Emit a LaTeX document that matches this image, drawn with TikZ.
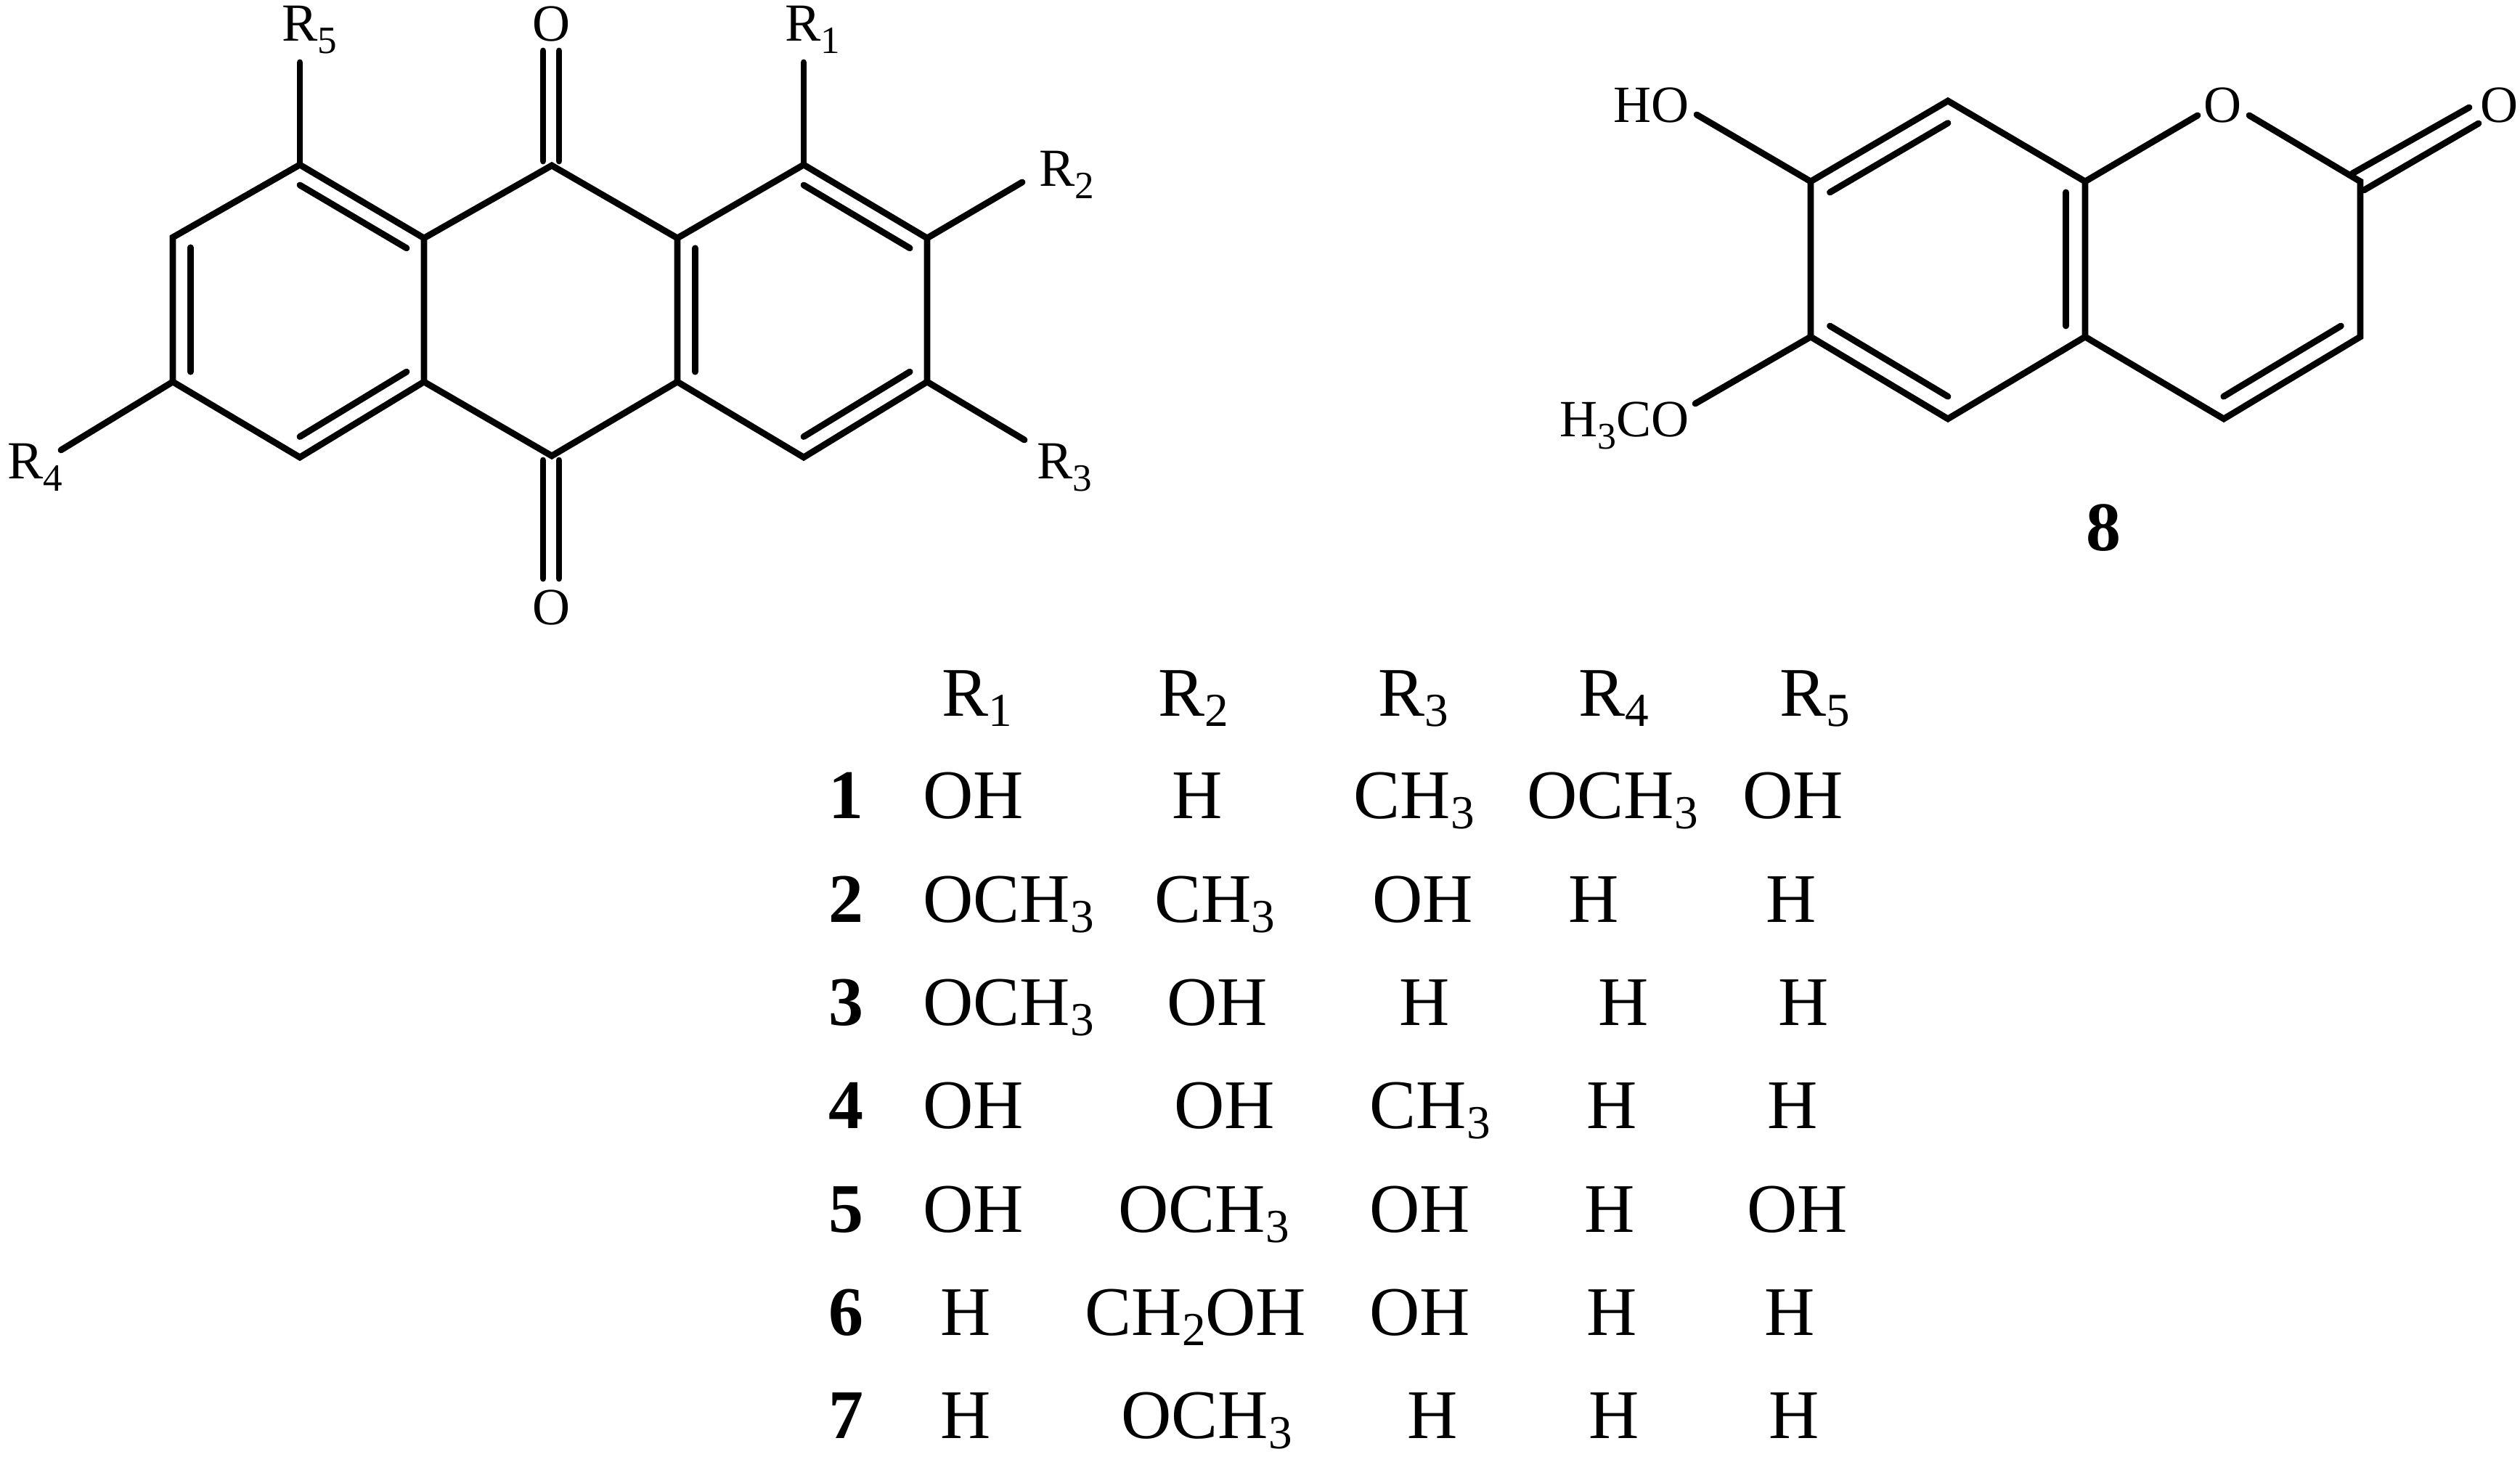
\documentclass[tikz,border=0pt]{standalone}
\usepackage{fontspec}
\setmainfont{Liberation Serif}
\usetikzlibrary{calc}
\def\innerbond(#1)(#2)(#3){\draw[bond] ($(#1)!0.14!(#3)$) -- ($(#2)!0.14!(#3)$);}
\def\lsub#1{\raisebox{-0.23em}{\scalebox{0.72}{#1}}}
\def\tsub#1{\raisebox{-0.14em}{\scalebox{0.68}{#1}}}
\tikzset{
	bond/.style={line width=2.5pt, line cap=round, line join=miter},
	arlabel/.style={inner sep=0pt, anchor=base west, font=\fontsize{21}{24}\selectfont},
	cmlabel/.style={inner sep=0pt, anchor=base, font=\fontsize{20.5}{24}\selectfont},
	cell/.style={inner sep=0pt, anchor=base west, font=\fontsize{27.3}{32}\selectfont},
	rownum/.style={inner sep=0pt, anchor=base, font=\fontsize{27.3}{32}\selectfont\bfseries}
}

\begin{document}
\begin{tikzpicture}
		\useasboundingbox (0, 0) rectangle (34.71, 20.14);
		
		%%%%% ANTHRAQUINONE %%%%%
		
		\coordinate (ctop) at (7.60, 17.86);
		\coordinate (cbot) at (7.60, 13.86);
		\coordinate (la) at (5.84, 16.86);
		\coordinate (lb) at (5.84, 14.88);
		\coordinate (ra) at (9.33, 16.86);
		\coordinate (rb) at (9.33, 14.88);
		\coordinate (l1) at (4.13, 17.87);
		\coordinate (l2) at (2.38, 16.87);
		\coordinate (l3) at (2.38, 14.88);
		\coordinate (l4) at (4.13, 13.84);
		\coordinate (r1) at (11.07, 17.87);
		\coordinate (r2) at (12.77, 16.86);
		\coordinate (r3) at (12.77, 14.88);
		\coordinate (r4) at (11.07, 13.84);
		\coordinate (lmid) at (4.13, 15.87);
		\coordinate (rmid) at (11.07, 15.87);
		
		\coordinate (endr5) at (4.13, 19.28);
		\coordinate (endr1) at (11.07, 19.28);
		\coordinate (endr2) at (14.08, 17.63);
		\coordinate (endr3) at (14.11, 14.08);
		\coordinate (endr4) at (0.84, 13.94);
		\coordinate (toa) at (7.48, 19.44);
		\coordinate (tob) at (7.70, 19.44);
		\coordinate (tia) at (7.48, 17.92);
		\coordinate (tib) at (7.70, 17.92);
		\coordinate (boa) at (7.48, 12.17);
		\coordinate (bob) at (7.70, 12.17);
		\coordinate (bia) at (7.48, 13.80);
		\coordinate (bib) at (7.70, 13.80);
		
		\draw[bond] (l1) -- (la) -- (lb) -- (l4) -- (l3) -- (l2) -- cycle;
		\draw[bond] (r1) -- (r2) -- (r3) -- (r4) -- (rb) -- (ra) -- cycle;
		\draw[bond] (la) -- (ctop) -- (ra);
		\draw[bond] (lb) -- (cbot) -- (rb);
		
		\innerbond(l1)(la)(lmid);
		\innerbond(l2)(l3)(lmid);
		\innerbond(lb)(l4)(lmid);
		\innerbond(r1)(r2)(rmid);
		\innerbond(ra)(rb)(rmid);
		\innerbond(r3)(r4)(rmid);
		
		\draw[bond] (l1) -- (endr5);
		\draw[bond] (r1) -- (endr1);
		\draw[bond] (r2) -- (endr2);
		\draw[bond] (r3) -- (endr3);
		\draw[bond] (l3) -- (endr4);
		\draw[bond] (tia) -- (toa);
		\draw[bond] (tib) -- (tob);
		\draw[bond] (bia) -- (boa);
		\draw[bond] (bib) -- (bob);
		
		\node[arlabel] (labr5) at (3.88, 19.57) {R\lsub{5}};
		\node[arlabel] (labr1) at (10.81, 19.57) {R\lsub{1}};
		\node[arlabel] (labr2) at (14.31, 17.57) {R\lsub{2}};
		\node[arlabel] (labr3) at (14.28, 13.54) {R\lsub{3}};
		\node[arlabel] (labr4) at (0.10, 13.54) {R\lsub{4}};
		\node[cmlabel] (labotop) at (7.60, 19.57) {O};
		\node[cmlabel] (labobot) at (7.60, 11.53) {O};
		
		%%%%% COUMARIN %%%%%
		
		\coordinate (c8) at (26.83, 18.75);
		\coordinate (c7) at (24.94, 17.64);
		\coordinate (c8a) at (28.72, 17.64);
		\coordinate (c6) at (24.94, 15.50);
		\coordinate (c4a) at (28.72, 15.50);
		\coordinate (c5) at (26.83, 14.37);
		\coordinate (c4) at (30.63, 14.37);
		\coordinate (c3) at (32.51, 15.50);
		\coordinate (c2) at (32.51, 17.64);
		\coordinate (bmid) at (26.83, 16.57);
		\coordinate (pmid) at (30.61, 16.57);
		
		\coordinate (endho) at (23.37, 18.56);
		\coordinate (endme) at (23.35, 14.58);
		\coordinate (enda) at (30.27, 18.55);
		\coordinate (endb) at (30.98, 18.55);
		\coordinate (dba) at (32.40, 17.75);
		\coordinate (dbb) at (34.01, 18.66);
		\coordinate (dbc) at (32.56, 17.52);
		\coordinate (dbd) at (34.14, 18.44);
		
		\draw[bond] (c8) -- (c7) -- (c6) -- (c5) -- (c4a) -- (c8a) -- cycle;
		\draw[bond] (c8a) -- (enda);
		\draw[bond] (endb) -- (c2) -- (c3) -- (c4) -- (c4a);
		
		\innerbond(c8)(c7)(bmid);
		\innerbond(c8a)(c4a)(bmid);
		\innerbond(c6)(c5)(bmid);
		\innerbond(c3)(c4)(pmid);
		
		\draw[bond] (c7) -- (endho);
		\draw[bond] (c6) -- (endme);
		\draw[bond] (dba) -- (dbb);
		\draw[bond] (dbc) -- (dbd);
		
		\node[cmlabel, anchor=base east] (labho) at (23.27, 18.45) {HO};
		\node[cmlabel, anchor=base east] (labme) at (23.27, 14.12) {H\lsub{3}CO};
		\node[cmlabel] (labring) at (30.61, 18.45) {O};
		\node[cmlabel] (labketo) at (34.42, 18.45) {O};
		\node[rownum] (num8) at (28.97, 12.55) {8};
		
		%%%%% TABLE %%%%%
		
		\node[cell] (head1) at (12.97, 10.27) {R\tsub{1}};
		\node[cell] (head2) at (15.95, 10.27) {R\tsub{2}};
		\node[cell] (head3) at (18.98, 10.27) {R\tsub{3}};
		\node[cell] (head4) at (21.74, 10.27) {R\tsub{4}};
		\node[cell] (head5) at (24.51, 10.27) {R\tsub{5}};
		
		\node[rownum] (num1) at (11.65, 8.86) {1};
		\node[cell] (a1) at (12.71, 8.86) {OH};
		\node[cell] (b1) at (16.14, 8.86) {H};
		\node[cell] (c1) at (18.64, 8.86) {CH\tsub{3}};
		\node[cell] (d1) at (21.03, 8.86) {OCH\tsub{3}};
		\node[cell] (e1) at (24.00, 8.86) {OH};
		
		\node[rownum] (num2) at (11.65, 7.43) {2};
		\node[cell] (a2) at (12.71, 7.43) {OCH\tsub{3}};
		\node[cell] (b2) at (15.90, 7.43) {CH\tsub{3}};
		\node[cell] (c2t) at (18.90, 7.43) {OH};
		\node[cell] (d2) at (21.60, 7.43) {H};
		\node[cell] (e2) at (24.32, 7.43) {H};
		
		\node[rownum] (num3) at (11.65, 6.01) {3};
		\node[cell] (a3) at (12.71, 6.01) {OCH\tsub{3}};
		\node[cell] (b3) at (16.07, 6.01) {OH};
		\node[cell] (c3t) at (19.27, 6.01) {H};
		\node[cell] (d3) at (22.01, 6.01) {H};
		\node[cell] (e3) at (24.49, 6.01) {H};
		
		\node[rownum] (num4) at (11.65, 4.59) {4};
		\node[cell] (a4) at (12.71, 4.59) {OH};
		\node[cell] (b4) at (16.17, 4.59) {OH};
		\node[cell] (c4t) at (18.86, 4.59) {CH\tsub{3}};
		\node[cell] (d4) at (21.85, 4.59) {H};
		\node[cell] (e4) at (24.34, 4.59) {H};
		
		\node[rownum] (num5) at (11.65, 3.16) {5};
		\node[cell] (a5) at (12.71, 3.16) {OH};
		\node[cell] (b5) at (15.40, 3.16) {OCH\tsub{3}};
		\node[cell] (c5t) at (18.86, 3.16) {OH};
		\node[cell] (d5) at (21.82, 3.16) {H};
		\node[cell] (e5) at (24.06, 3.16) {OH};
		
		\node[rownum] (num6) at (11.65, 1.74) {6};
		\node[cell] (a6) at (12.95, 1.74) {H};
		\node[cell] (b6) at (14.94, 1.74) {CH\tsub{2}OH};
		\node[cell] (c6t) at (18.86, 1.74) {OH};
		\node[cell] (d6) at (21.85, 1.74) {H};
		\node[cell] (e6) at (24.30, 1.74) {H};
		
		\node[rownum] (num7) at (11.65, 0.32) {7};
		\node[cell] (a7) at (12.95, 0.32) {H};
		\node[cell] (b7) at (15.44, 0.32) {OCH\tsub{3}};
		\node[cell] (c7t) at (19.38, 0.32) {H};
		\node[cell] (d7) at (21.88, 0.32) {H};
		\node[cell] (e7) at (24.36, 0.32) {H};
		
		%%%%% END %%%%%
	\end{tikzpicture}
\end{document}
